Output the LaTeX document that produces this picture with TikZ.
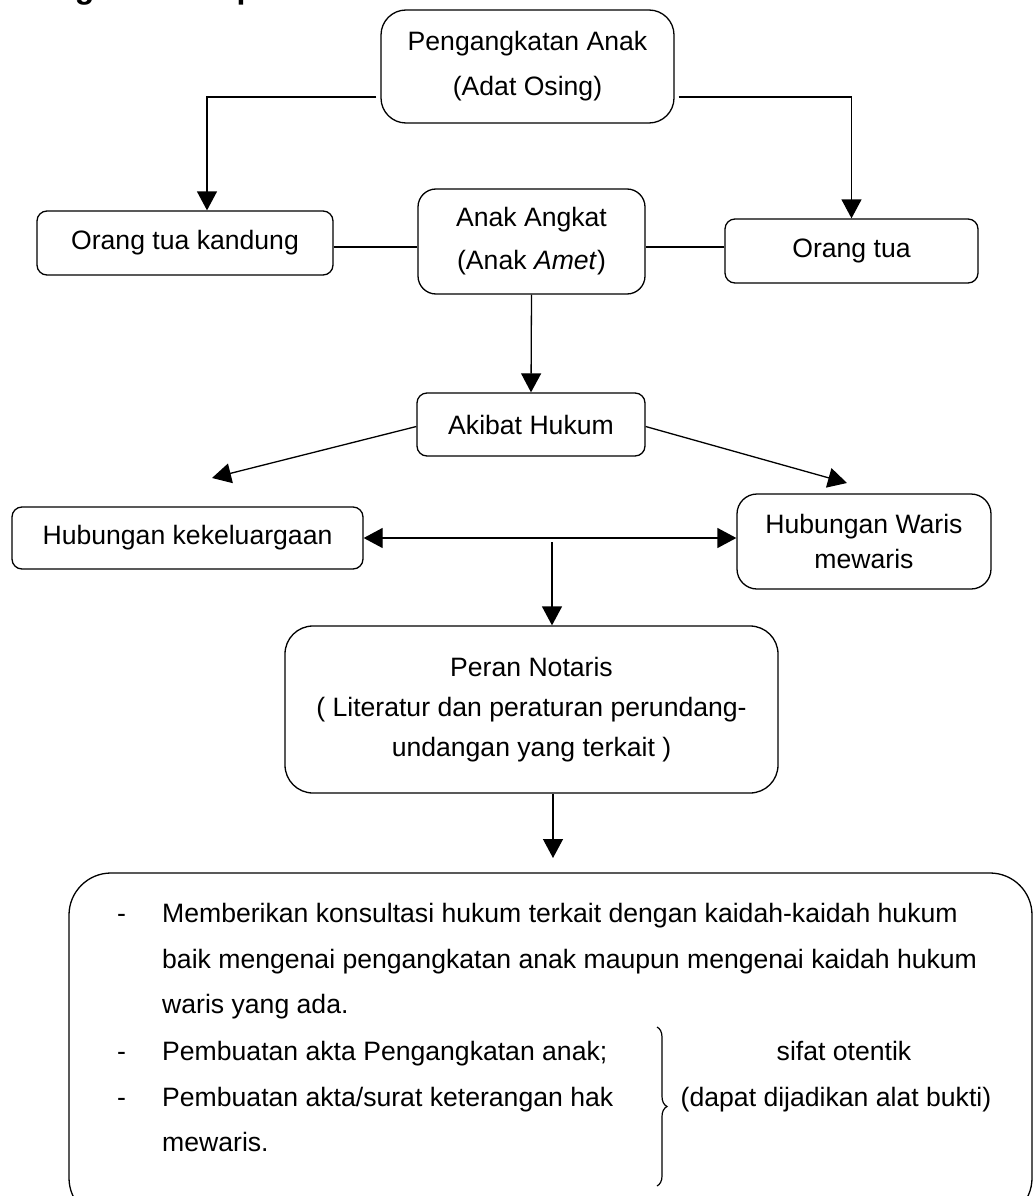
\documentclass[tikz,border=0pt]{standalone}
\usepackage{fontspec}
\setmainfont{Liberation Sans}
\usetikzlibrary{arrows.meta,calc,decorations.pathreplacing}
\tikzset{
  box/.style={draw, line width=1.3pt, rounded corners=10pt, inner sep=0pt, align=center},
  conn/.style={line width=1.3pt},
  arr/.style={line width=1.3pt, -{Triangle[length=19pt,width=20pt]}},
  darr/.style={line width=1.3pt, {Triangle[length=19pt,width=20pt]}-{Triangle[length=19pt,width=20pt]}},
  txt/.style={anchor=base west, inner sep=0pt},
}
\begin{document}
\begin{tikzpicture}[x=1pt,y=-1pt,font=\fontsize{26.6}{45}\selectfont]
\useasboundingbox (0,0) rectangle (1034,1196);
\begin{scope}
\clip (0,0) rectangle (1034,1196);
\node[anchor=base west, inner sep=0pt, font=\bfseries\fontsize{32}{32}\selectfont] (title) at (-16,-1.5) {Kerangka Konsep};
\draw[line width=1.3pt, rounded corners=42pt] (69,873) rectangle (1032,1220);
\end{scope}

\node[box, rounded corners=25pt, minimum width=293pt, minimum height=113pt] (top) at (527.5,66.5) {Pengangkatan Anak\\(Adat Osing)};
\node[box, minimum width=296pt, minimum height=64pt] (otk) at (185,243) {Orang tua kandung};
\node[box, rounded corners=18pt, minimum width=227pt, minimum height=105pt, font=\fontsize{26.6}{43}\selectfont] (aa) at (531.5,241.5) {Anak Angkat\\(Anak \textit{Amet})};
\node[box, minimum width=253pt, minimum height=64pt] (ot) at (851.5,251) {Orang tua};
\node[box, minimum width=228pt, minimum height=63pt] (ah) at (531,424.5) {Akibat Hukum};
\node[box, minimum width=351pt, minimum height=62pt] (hk) at (187.5,538) {Hubungan kekeluargaan};
\node[box, rounded corners=20pt, minimum width=254pt, minimum height=95pt, font=\fontsize{26.6}{35}\selectfont] (hw) at (864,541.5) {Hubungan Waris\\mewaris};
\node[box, rounded corners=28pt, minimum width=493pt, minimum height=167pt, font=\fontsize{26.6}{40}\selectfont] (pn) at (531.5,709.5) {Peran Notaris\\( Literatur dan peraturan perundang-\\undangan yang terkait )};

% connectors
\draw[arr] ($(top.west)+(-4,30.5)$) -| ($(otk.north)+(22,0)$);
\draw[arr] ($(top.east)+(4,30.5)$) -| (ot.north);
\draw[conn] ($(otk.east)+(0,4)$) coordinate (l1) -- (l1 -| aa.west);
\draw[conn] ($(ot.west)+(0,-4)$) coordinate (l2) -- (l2 -| aa.east);
\draw[arr] (aa.south) -- (ah.north);
\coordinate (tipL) at (212,478);
\coordinate (tipR) at (847,483);
\draw[arr] ($(ah.west)+(0,2)$) -- (tipL);
\draw[arr] ($(ah.east)+(0,2)$) -- (tipR);
\draw[darr] (hk.east) -- (hk.east -| hw.west);
\coordinate (vs) at (552,542);
\draw[arr] (vs) -- (vs |- pn.north);
\coordinate (ve) at (553,858);
\draw[arr] (pn.south -| ve) -- (ve);

% bottom box text
\node[txt] (d1) at (117,922) {-};
\node[txt] (t1) at (162,922) {Memberikan konsultasi hukum terkait dengan kaidah-kaidah hukum};
\node[txt] (t2) at (162,968) {baik mengenai pengangkatan anak maupun mengenai kaidah hukum};
\node[txt] (t3) at (162,1013) {waris yang ada.};
\node[txt] (d2) at (117,1060) {-};
\node[txt] (t4) at (162,1060) {Pembuatan akta Pengangkatan anak;};
\node[txt] (d3) at (117,1106) {-};
\node[txt] (t5) at (162,1106) {Pembuatan akta/surat keterangan hak};
\node[txt] (t6) at (162,1151) {mewaris.};
\draw[line width=1.2pt, decorate, decoration={brace, amplitude=10pt}] (657,1027) coordinate (bt) -- (657,1186) coordinate (bb);
\node[anchor=base, inner sep=0pt] (s1) at (844,1060) {sifat otentik};
\node[anchor=base, inner sep=0pt] (s2) at (836,1106) {(dapat dijadikan alat bukti)};
\end{tikzpicture}
\end{document}
